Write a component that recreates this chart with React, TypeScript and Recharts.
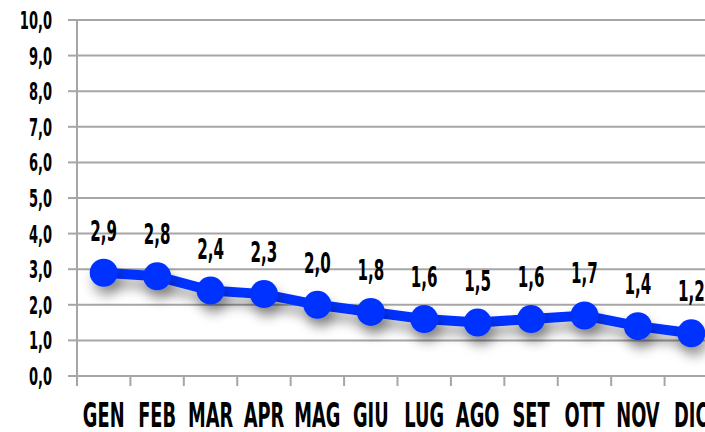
import React from 'react';
import { LineChart, Line, XAxis, YAxis, CartesianGrid, LabelList } from 'recharts';

const months = ['GEN', 'FEB', 'MAR', 'APR', 'MAG', 'GIU', 'LUG', 'AGO', 'SET', 'OTT', 'NOV', 'DIC'];
const values = [2.9, 2.8, 2.4, 2.3, 2.0, 1.8, 1.6, 1.5, 1.6, 1.7, 1.4, 1.2];
const yTicks = [0, 1, 2, 3, 4, 5, 6, 7, 8, 9, 10];

const data = months.map((m, i) => ({ month: m, value: values[i] }));

const FONT = '"DejaVu Sans Condensed", "DejaVu Sans", sans-serif';
const GRID = '#a6a6a6';
const BLUE = '#0433ff';

const fmt = (v: number) => v.toFixed(1).replace('.', ',');

const YTick = (props: any) => {
  const { y, payload } = props;
  return (
    <text x={0} y={0} transform={`translate(52, ${y + 9}) scale(0.58, 1)`} textAnchor="end"
      fontFamily={FONT} fontSize={25} fontWeight="bold" fill="#000">
      {fmt(payload.value)}
    </text>
  );
};

const XTick = (props: any) => {
  const { x, y, payload } = props;
  const half = payload && payload.offset ? payload.offset : 26.7;
  return (
    <g>
      <line x1={x - half} x2={x - half} y1={y} y2={y + 10} stroke={GRID} strokeWidth={2} />
      <text x={0} y={0} transform={`translate(${x}, ${y + 51}) scale(0.6, 1)`} textAnchor="middle"
        fontFamily={FONT} fontSize={33} fontWeight="bold" fill="#000">
        {payload.value}
      </text>
    </g>
  );
};

const PointLabel = (props: any) => {
  const { x, y, value } = props;
  return (
    <text x={0} y={0} transform={`translate(${x}, ${y - 32}) scale(0.6, 1)`} textAnchor="middle"
      fontFamily={FONT} fontSize={28} fontWeight="bold" fill="#000">
      {fmt(value)}
    </text>
  );
};

export default function App() {
  return (
    <div style={{ position: 'absolute', left: 0, top: 0, width: 705, height: 432, overflow: 'hidden', background: '#fff' }}>
      <style>{'.recharts-line-curve, .recharts-line-dots { filter: url(#lineShadow); }'}</style>
      <svg width={0} height={0} style={{ position: 'absolute' }}>
        <defs>
          <filter id="lineShadow" x="-20%" y="-50%" width="140%" height="250%">
            <feDropShadow dx={3} dy={9} stdDeviation={6} floodColor="#000" floodOpacity={0.35} />
          </filter>
        </defs>
      </svg>
      <LineChart width={718} height={432} data={data} margin={{ top: 20, right: 0, bottom: 0, left: 0 }}>
        <CartesianGrid vertical={false} stroke={GRID} strokeWidth={2} />
        <XAxis dataKey="month" scale="band" height={56} axisLine={{ stroke: GRID, strokeWidth: 2 }} tickLine={false}
          tickSize={0} tickMargin={0} tick={<XTick />} interval={0} />
        <YAxis width={77} domain={[0, 10]} ticks={yTicks} interval={0}
          axisLine={{ stroke: GRID, strokeWidth: 2 }} tickLine={{ stroke: GRID, strokeWidth: 2 }}
          tickSize={9} tick={<YTick />} />
        <Line type="linear" dataKey="value" stroke={BLUE} strokeWidth={10} isAnimationActive={false}
          dot={{ r: 14, fill: BLUE, stroke: 'none' }} activeDot={false}>
          <LabelList dataKey="value" content={<PointLabel />} />
        </Line>
      </LineChart>
    </div>
  );
}
